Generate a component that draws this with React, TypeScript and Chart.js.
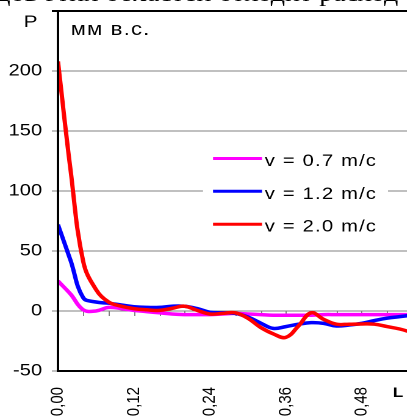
import React, { useEffect, useRef } from 'react';
import { Chart, registerables } from 'chart.js';

Chart.register(...registerables);

// ---- data ----
const lengths = [
  0, 0.02, 0.04, 0.06, 0.08, 0.1, 0.12, 0.14, 0.16, 0.18, 0.2, 0.22, 0.24, 0.26, 0.28,
  0.3, 0.32, 0.34, 0.36, 0.38, 0.4, 0.42, 0.44, 0.46, 0.48, 0.5, 0.52, 0.54, 0.56,
];
const pV07 = [
  25, 14, 1, 0, 3, 2, 0.5, -0.5, -1.5, -2.5, -3, -3, -3, -2.5, -2,
  -2.5, -3, -3.5, -3.5, -3.5, -3.5, -3, -3, -3, -3, -3, -3, -3, -3,
];
const pV12 = [
  72, 42, 11, 7.5, 6.5, 5, 3.6, 3, 3, 4, 4, 2, -1, -1.5, -2,
  -5, -10, -14.5, -13, -11, -9.7, -10.3, -12.5, -11.7, -10.3, -8, -6, -4.7, -3.5,
];
const pV20 = [
  208, 117, 41, 18, 7.5, 4, 2, 1, 0.5, 2.2, 4, 0.5, -2.5, -2, -1.5,
  -6, -13.6, -19, -22, -12.5, -1.5, -7, -11, -11, -10.8, -11, -13, -15, -18,
];
const seriesLabels = ['v = 0.7 m/c', 'v = 1.2 m/c', 'v = 2.0 m/c'];
const seriesColors = ['#FF00FF', '#0000FF', '#FF0000'];
const xTickLabels = ['0,00', '0,12', '0,24', '0,36', '0,48'];
const xLabelStep = 0.12;
const xMinorStep = 0.04;
const xMax = 0.56;
const yMin = -50;
const yMax = 250;
const yStep = 50;
const yAxisTitle = 'P';
const xAxisTitle = 'L';
const unitLabel = 'мм в.с.';
const headerText = 'дов этих областей отходит расход';

const STRETCH = 1.22;
const CW = 338;
const FONT = '"Liberation Sans", Arial, sans-serif';

const overlayPlugin = {
  id: 'overlay',
  beforeDatasetsDraw(chart: any) {
    const { ctx } = chart;
    const xs = chart.scales.x;
    const ys = chart.scales.y;
    const y0 = ys.getPixelForValue(0);
    ctx.save();
    ctx.strokeStyle = '#808080';
    ctx.lineWidth = 1;
    const n = Math.round(xMax / xMinorStep);
    for (let k = 1; k <= n; k++) {
      const px = Math.round(xs.getPixelForValue(k * xMinorStep)) + 0.5;
      ctx.beginPath();
      ctx.moveTo(px, Math.round(y0));
      ctx.lineTo(px, Math.round(y0) + 5);
      ctx.stroke();
    }
    ctx.restore();
  },
  afterDatasetsDraw(chart: any) {
    const { ctx } = chart;
    ctx.save();
    // legend
    ctx.fillStyle = '#ffffff';
    ctx.fillRect(166.4, 140, 151.6, 100);
    const rows = [158.5, 191.3, 224.2];
    seriesLabels.forEach((lab, i) => {
      ctx.strokeStyle = seriesColors[i];
      ctx.lineWidth = 3;
      ctx.beginPath();
      ctx.moveTo(174.6, rows[i]);
      ctx.lineTo(214.8, rows[i]);
      ctx.stroke();
      ctx.fillStyle = '#000';
      ctx.font = `16.5px ${FONT}`;
      (ctx as any).letterSpacing = '1px';
      ctx.textAlign = 'left';
      ctx.textBaseline = 'alphabetic';
      ctx.fillText(lab, 217, rows[i] + 7.5);
    });
    (ctx as any).letterSpacing = '1px';
    ctx.font = `18px ${FONT}`;
    ctx.fillStyle = '#000';
    ctx.fillText(unitLabel, 58, 35);
    (ctx as any).letterSpacing = '0px';
    ctx.font = `17px ${FONT}`;
    ctx.textAlign = 'center';
    ctx.fillText(yAxisTitle, 25, 27);
    ctx.font = `bold 14px ${FONT}`;
    ctx.textAlign = 'left';
    ctx.fillText(xAxisTitle, 322, 397);
    ctx.restore();
  },
  afterDraw(chart: any) {
    const { ctx, chartArea } = chart;
    ctx.save();
    ctx.strokeStyle = '#000';
    ctx.lineWidth = 2;
    ctx.beginPath();
    ctx.moveTo(chartArea.left - 5, chartArea.top);
    ctx.lineTo(chartArea.right, chartArea.top);
    ctx.moveTo(chartArea.left, chartArea.top);
    ctx.lineTo(chartArea.left, chartArea.bottom);
    ctx.stroke();
    ctx.restore();
  },
};

export default function App() {
  const ref = useRef<HTMLCanvasElement>(null);
  useEffect(() => {
    if (!ref.current) return;
    const datasets = [pV20, pV12, pV07].map((d, j) => {
      const i = 2 - j;
      return {
        label: seriesLabels[i],
        data: lengths.map((x, k) => ({ x, y: d[k] })),
        borderColor: seriesColors[i],
        borderWidth: 3.5,
        pointRadius: 0,
        tension: 0.4,
        fill: false,
      };
    });
    const chart = new Chart(ref.current, {
      type: 'line',
      data: { datasets },
      plugins: [overlayPlugin],
      options: {
        animation: false,
        responsive: false,
        devicePixelRatio: 2,
        layout: { padding: { top: 11, right: 0, bottom: 0, left: 0 } },
        plugins: { legend: { display: false }, tooltip: { enabled: false } },
        scales: {
          x: {
            type: 'linear',
            min: 0,
            max: xMax,
            afterFit: (s: any) => {
              s.height = 47;
              s.paddingLeft = 0;
              s.paddingRight = 0;
            },
            grid: { display: false, drawTicks: false },
            border: { display: true, color: '#000', width: 2 },
            ticks: {
              stepSize: xMinorStep,
              autoSkip: false,
              minRotation: 90,
              maxRotation: 90,
              padding: 16,
              color: '#000',
              font: { family: FONT, size: 15 },
              callback: (v: any) => {
                const k = Math.round(Number(v) / xLabelStep);
                if (Math.abs(Number(v) - k * xLabelStep) < 1e-6 && k < xTickLabels.length) {
                  return xTickLabels[k];
                }
                return '';
              },
            },
          },
          y: {
            type: 'linear',
            min: yMin,
            max: yMax,
            afterFit: (s: any) => {
              s.width = 47.5;
              s.paddingTop = 0;
              s.paddingBottom = 0;
            },
            grid: {
              color: (c: any) => (c.tick && c.tick.value === yMax ? '#000' : '#808080'),
              lineWidth: (c: any) => (c.tick && c.tick.value === yMax ? 2 : 1),
              tickLength: 5,
            },
            border: { display: true, color: '#000', width: 2 },
            ticks: {
              stepSize: yStep,
              padding: 8,
              color: '#000',
              font: { family: FONT, size: 16.5 },
              callback: (v: any) => (Number(v) === yMax ? '' : String(v)),
            },
          },
        },
      },
    });
    return () => chart.destroy();
  }, []);

  return (
    <div
      style={{
        position: 'fixed',
        left: 0,
        top: 0,
        width: 407,
        height: 418,
        overflow: 'hidden',
        background: '#fff',
      }}
    >
      <div
        style={{
          position: 'absolute',
          left: 0,
          top: 0,
          width: CW,
          height: 418,
          transform: `scaleX(${STRETCH})`,
          transformOrigin: '0 0',
        }}
      >
        <canvas ref={ref} width={CW} height={418} style={{ display: 'block', width: CW, height: 418 }} />
        <div
          style={{
            position: 'absolute',
            left: -3,
            top: -18,
            whiteSpace: 'nowrap',
            font: '23px "Liberation Serif", "Times New Roman", serif',
            lineHeight: '23px',
            color: '#000',
            pointerEvents: 'none',
          }}
        >
          {headerText}
        </div>
      </div>
    </div>
  );
}
